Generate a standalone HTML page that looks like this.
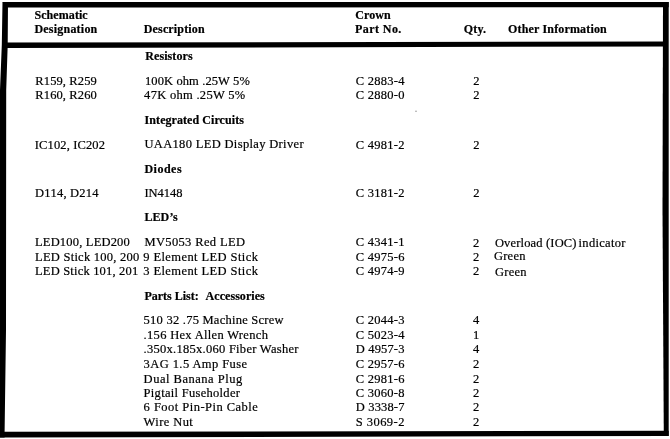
<!DOCTYPE html>
<html><head><meta charset="utf-8"><style>
html,body{margin:0;padding:0;background:#fff;}
body{width:670px;height:439px;overflow:hidden;}
svg{display:block;filter:grayscale(1) blur(0.25px);}
text{font-family:"Liberation Serif",serif;font-size:12.5px;fill:#000;stroke:#000;stroke-width:0.2px;}
text.b{font-weight:bold;font-size:12px;}
</style></head><body>
<svg width="670" height="439" viewBox="0 0 670 439">
<rect width="670" height="439" fill="#fff"/>

<polygon points="2.5,2 668.7,2 668.7,7.2 8,7.5" fill="#000"/>
<polygon points="2.5,2 8,2 7.7,45 6.2,90 6,330 4.6,432 4.6,437.5 0,437.5 0,90 1.8,45" fill="#000"/>
<polygon points="663,2 668.7,2 668.7,436 663.8,436 662.5,210" fill="#000"/>
<polygon points="2,42.6 668,41.4 668,46.4 2,48" fill="#000"/>
<polygon points="0,431.8 668.7,430.8 668.7,435.9 0,437.5" fill="#000"/>
<circle cx="416" cy="111.2" r="0.8" fill="#999"/>

<text x="34.4" y="18.5" textLength="53.3" lengthAdjust="spacing" class="b">Schematic</text>
<text x="34.4" y="33.0" textLength="62.9" lengthAdjust="spacing" class="b">Designation</text>
<text x="143.8" y="33.2" textLength="60.8" lengthAdjust="spacing" class="b">Description</text>
<text x="355.3" y="18.7" textLength="35.4" lengthAdjust="spacing" class="b">Crown</text>
<text x="355.1" y="33.0" textLength="46.2" lengthAdjust="spacing" class="b">Part No.</text>
<text x="463.8" y="32.6" textLength="22.3" lengthAdjust="spacing" class="b">Qty.</text>
<text x="508.0" y="32.5" textLength="98.8" lengthAdjust="spacing" class="b">Other Information</text>
<text x="145.3" y="60.0" textLength="47.3" lengthAdjust="spacing" class="b">Resistors</text>
<text x="35.3" y="84.8" textLength="61.5" lengthAdjust="spacing">R159, R259</text>
<text x="145.0" y="84.8" textLength="104.8" lengthAdjust="spacing">100K ohm .25W 5%</text>
<text x="355.8" y="84.8" textLength="48.6" lengthAdjust="spacing">C 2883-4</text>
<text x="473.3" y="84.8">2</text>
<text x="35.3" y="99.1" textLength="61.5" lengthAdjust="spacing">R160, R260</text>
<text x="144.1" y="99.1" textLength="101.1" lengthAdjust="spacing">47K ohm .25W 5%</text>
<text x="355.8" y="99.1" textLength="48.6" lengthAdjust="spacing">C 2880-0</text>
<text x="473.3" y="99.1">2</text>
<text x="144.6" y="123.9" textLength="99.3" lengthAdjust="spacing" class="b">Integrated Circuits</text>
<text x="34.8" y="148.5" textLength="70.2" lengthAdjust="spacing">IC102, IC202</text>
<text x="144.4" y="148.4" textLength="159.2" lengthAdjust="spacing">UAA180 LED Display Driver</text>
<text x="355.8" y="148.6" textLength="48.6" lengthAdjust="spacing">C 4981-2</text>
<text x="473.3" y="148.6">2</text>
<text x="144.4" y="172.5" textLength="37.2" lengthAdjust="spacing" class="b">Diodes</text>
<text x="35.1" y="197.1" textLength="63.5" lengthAdjust="spacing">D114, D214</text>
<text x="144.4" y="197.1" textLength="38.0" lengthAdjust="spacing">IN4148</text>
<text x="355.8" y="197.3" textLength="48.6" lengthAdjust="spacing">C 3181-2</text>
<text x="473.3" y="197.3">2</text>
<text x="144.4" y="221.2" textLength="33.3" lengthAdjust="spacing" class="b">LED’s</text>
<text x="35.0" y="246.0" textLength="94.8" lengthAdjust="spacing">LED100, LED200</text>
<text x="144.4" y="245.8" textLength="100.6" lengthAdjust="spacing">MV5053 Red LED</text>
<text x="355.8" y="246.0" textLength="48.6" lengthAdjust="spacing">C 4341-1</text>
<text x="473.1" y="246.5">2</text>
<text x="494.9" y="246.6" textLength="81.6" lengthAdjust="spacing">Overload (IOC)</text>
<text x="578.6" y="246.6" textLength="46.8" lengthAdjust="spacing">indicator</text>
<text x="35.0" y="260.6" textLength="104.3" lengthAdjust="spacing">LED Stick 100, 200</text>
<text x="143.2" y="260.8" textLength="114.7" lengthAdjust="spacing">9 Element LED Stick</text>
<text x="355.8" y="260.6" textLength="48.6" lengthAdjust="spacing">C 4975-6</text>
<text x="473.1" y="260.6">2</text>
<text x="494.0" y="260.4" textLength="31.4" lengthAdjust="spacing">Green</text>
<text x="35.0" y="275.3" textLength="103.2" lengthAdjust="spacing">LED Stick 101, 201</text>
<text x="143.2" y="275.0" textLength="114.7" lengthAdjust="spacing">3 Element LED Stick</text>
<text x="355.8" y="275.3" textLength="48.6" lengthAdjust="spacing">C 4974-9</text>
<text x="473.1" y="275.3">2</text>
<text x="495.1" y="275.5" textLength="31.4" lengthAdjust="spacing">Green</text>
<text x="144.5" y="300.1" textLength="54.2" lengthAdjust="spacing" class="b">Parts List:</text>
<text x="205.6" y="300.1" textLength="59.1" lengthAdjust="spacing" class="b">Accessories</text>
<text x="143.6" y="324.3" textLength="140.0" lengthAdjust="spacing">510 32 .75 Machine Screw</text>
<text x="355.8" y="324.3" textLength="48.6" lengthAdjust="spacing">C 2044-3</text>
<text x="473.1" y="324.3">4</text>
<text x="143.6" y="338.7" textLength="124.3" lengthAdjust="spacing">.156 Hex Allen Wrench</text>
<text x="355.8" y="338.7" textLength="48.6" lengthAdjust="spacing">C 5023-4</text>
<text x="473.1" y="338.7">1</text>
<text x="143.6" y="353.3" textLength="154.8" lengthAdjust="spacing">.350x.185x.060 Fiber Washer</text>
<text x="355.8" y="353.3" textLength="48.6" lengthAdjust="spacing">D 4957-3</text>
<text x="473.1" y="353.3">4</text>
<text x="143.6" y="367.8" textLength="103.5" lengthAdjust="spacing">3AG 1.5 Amp Fuse</text>
<text x="355.8" y="367.8" textLength="48.6" lengthAdjust="spacing">C 2957-6</text>
<text x="473.1" y="367.8">2</text>
<text x="143.6" y="382.8" textLength="98.7" lengthAdjust="spacing">Dual Banana Plug</text>
<text x="355.8" y="382.8" textLength="48.6" lengthAdjust="spacing">C 2981-6</text>
<text x="473.1" y="382.8">2</text>
<text x="143.6" y="397.0" textLength="96.3" lengthAdjust="spacing">Pigtail Fuseholder</text>
<text x="355.8" y="397.0" textLength="48.6" lengthAdjust="spacing">C 3060-8</text>
<text x="473.1" y="397.0">2</text>
<text x="143.6" y="411.1" textLength="114.2" lengthAdjust="spacing">6 Foot Pin-Pin Cable</text>
<text x="355.8" y="411.1" textLength="48.6" lengthAdjust="spacing">D 3338-7</text>
<text x="473.1" y="411.1">2</text>
<text x="143.6" y="425.5" textLength="49.2" lengthAdjust="spacing">Wire Nut</text>
<text x="355.8" y="425.5" textLength="48.6" lengthAdjust="spacing">S 3069-2</text>
<text x="473.1" y="425.5">2</text>
</svg>
</body></html>
